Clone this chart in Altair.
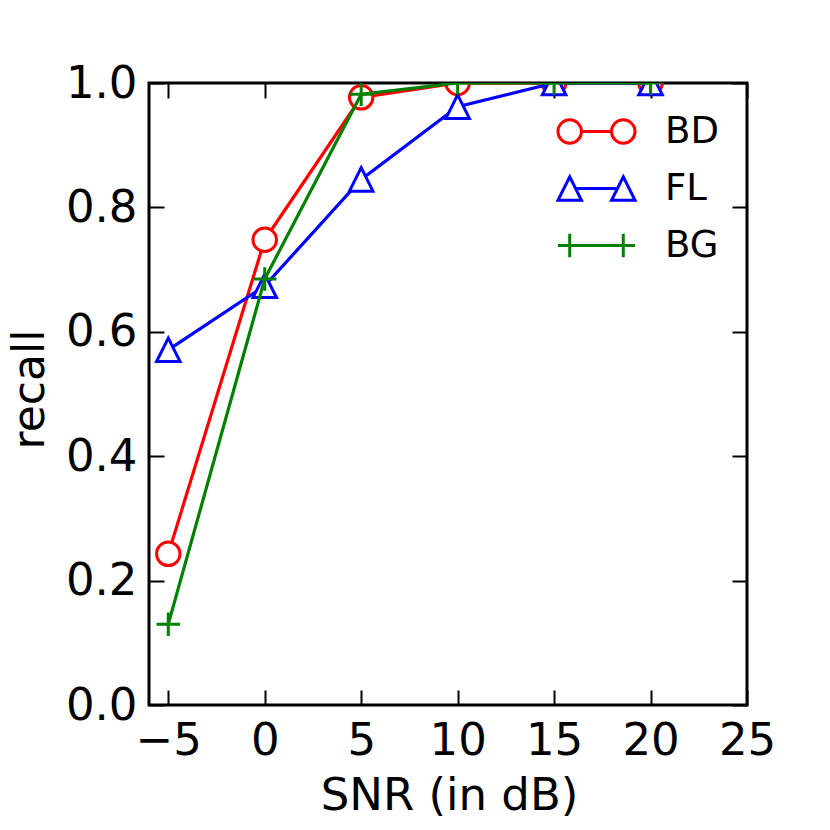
import altair as alt
import pandas as pd

# ---- data ----
snr = [-5, 0, 5, 10, 15, 20]
bd = [0.243, 0.748, 0.977, 1.0, 1.0, 1.0]
fl = [0.571, 0.674, 0.845, 0.962, 1.0, 1.0]
bg = [0.130, 0.685, 0.982, 1.0, 1.0, 1.0]
series_names = ["BD", "FL", "BG"]
series_colors = ["#ff0000", "#0000ff", "#008000"]
x_ticks = [-5, 0, 5, 10, 15, 20, 25]
y_ticks = [0.0, 0.2, 0.4, 0.6, 0.8, 1.0]

rows = []
for name, vals in zip(series_names, [bd, fl, bg]):
    for s, v in zip(snr, vals):
        rows.append({"snr": s, "recall": v, "series": name})
df = pd.DataFrame(rows)

W, H = 598, 622
FONT = "DejaVu Sans"

marker_paths = ["circle", "M 0 -1 L 1 1 L -1 1 Z", "M -1 0 L 1 0 M 0 -1 L 0 1"]
legend_paths = [
    "M -1.28 0 A 1 1 0 1 0 -3.28 0 A 1 1 0 1 0 -1.28 0 Z "
    "M 3.28 0 A 1 1 0 1 0 1.28 0 A 1 1 0 1 0 3.28 0 Z M -1.28 0 L 1.28 0",
    "M -2.28 -1 L -1.28 1 L -3.28 1 Z M 2.28 -1 L 3.28 1 L 1.28 1 Z M -1.78 0 L 1.78 0",
    "M -3.28 0 L 3.28 0 M -2.28 -1 L -2.28 1 M 2.28 -1 L 2.28 1",
]

xs = alt.Scale(domain=[-6, 25], nice=False, zero=False)
ys = alt.Scale(domain=[0, 1], nice=False, zero=False)
cs = alt.Scale(domain=series_names, range=series_colors)
ss = alt.Scale(domain=series_names, range=marker_paths)
ls = alt.Scale(domain=series_names, range=legend_paths)

x_main = alt.Axis(values=x_ticks, format="d", ticks=False, tickSize=0, domain=False, grid=False,
                  labelFontSize=45, labelFont=FONT, labelColor="black", labelBaseline="alphabetic",
                  labelPadding=49, labelFlush=False, labelOverlap=False,
                  title="SNR (in dB)", titleFontSize=45, titleFont=FONT, titleFontWeight="normal",
                  titleColor="black", titleX=300, titleY=104, titleBaseline="alphabetic",
                  titleAlign="center", titleAnchor="middle")
y_main = alt.Axis(values=y_ticks, format=".1f", ticks=False, tickSize=0, domain=False, grid=False,
                  labelFontSize=45, labelFont=FONT, labelColor="black", labelBaseline="middle",
                  labelPadding=12, labelFlush=False, labelOverlap=False,
                  title="recall", titleFontSize=44, titleFont=FONT, titleFontWeight="normal",
                  titleColor="black", titleX=-106, titleY=306, titleAngle=270,
                  titleBaseline="alphabetic", titleAlign="center", titleAnchor="middle")


def tick_axis(orient, offset, values):
    return alt.Axis(orient=orient, offset=offset, values=values, labels=False, domain=False,
                    grid=False, ticks=True, tickSize=15, tickWidth=2, tickColor="black", title=None)


x_in_a = tick_axis("top", -H, x_ticks)
y_in_a = tick_axis("right", -W, y_ticks)
x_in_b = tick_axis("bottom", -H, x_ticks)
y_in_b = tick_axis("left", -W, y_ticks)

base = alt.Chart(df)
layers = []
for i, name in enumerate(series_names):
    sub = base.transform_filter(alt.datum.series == name)
    xa = x_main if i == 0 else (x_in_a if i == 1 else None)
    ya = y_main if i == 0 else (y_in_a if i == 1 else None)
    line = sub.mark_line(clip=True, strokeWidth=3.2).encode(
        x=alt.X("snr:Q", scale=xs, axis=xa),
        y=alt.Y("recall:Q", scale=ys, axis=ya),
        color=alt.Color("series:N", scale=cs, legend=None),
    )
    pts = sub.mark_point(clip=True, filled=False, fill="white", strokeWidth=3, size=552,
                         opacity=1).encode(
        x=alt.X("snr:Q", scale=xs, axis=None),
        y=alt.Y("recall:Q", scale=ys, axis=None),
        color=alt.Color("series:N", scale=cs, legend=None),
        shape=alt.Shape("series:N", scale=ss, legend=None),
    )
    layers += [line, pts]

leg = alt.Legend(title=None, orient="none", legendX=429, legendY=30, padding=0,
                 labelFontSize=37, labelFont=FONT, labelColor="black", labelOffset=50,
                 rowPadding=19, symbolSize=552, symbolStrokeWidth=3, symbolFillColor="white")

legend_layer = base.transform_filter("false").mark_point(
    filled=False, fill="white", strokeWidth=3, size=552, opacity=1).encode(
    x=alt.X("snr:Q", scale=xs, axis=x_in_b),
    y=alt.Y("recall:Q", scale=ys, axis=y_in_b),
    color=alt.Color("series:N", scale=cs, legend=leg),
    shape=alt.Shape("series:N", scale=ls, legend=leg),
)
layers.append(legend_layer)

chart = alt.layer(*layers).resolve_scale(
    color="independent", shape="independent"
).resolve_axis(x="independent", y="independent").properties(
    width=W, height=H,
    autosize=alt.AutoSizeParams(type="none"),
    padding={"left": 141, "top": 75, "right": 75, "bottom": 117},
    background="white",
).configure(font=FONT).configure_view(stroke="black", strokeWidth=3)

chart.save("out.html", embed_options={"renderer": "svg", "actions": False})
